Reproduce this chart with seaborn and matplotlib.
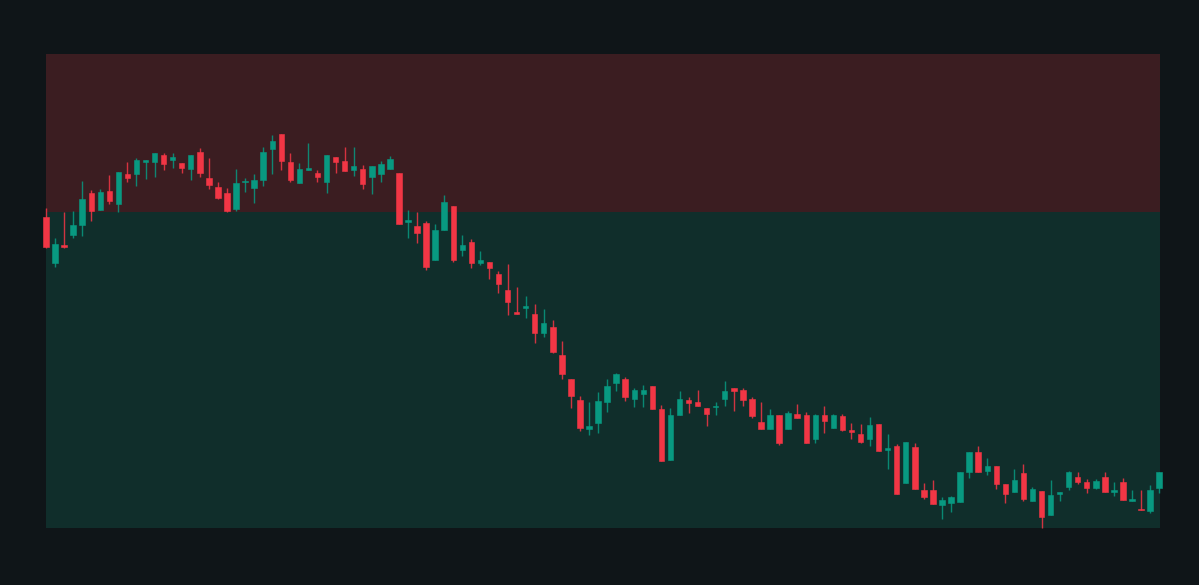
import numpy as np
import pandas as pd
import matplotlib
matplotlib.use("Agg")
import matplotlib.pyplot as plt
import seaborn as sns

# --- datos OHLC ---
opens = [131.13, 126.47, 128.27, 129.27, 130.30, 133.53, 131.83, 133.70, 132.40, 135.40,
         135.43, 136.63, 136.57, 137.30, 136.80, 136.50, 135.90, 137.63, 135.00, 134.13,
         133.47, 131.87, 134.60, 133.97, 134.77, 137.93, 139.37, 136.63, 134.53, 135.83,
         135.53, 134.63, 137.13, 136.70, 135.77, 135.87, 135.13, 135.37, 135.93, 135.53,
         130.63, 130.17, 130.50, 126.83, 129.83, 132.17, 127.80, 128.60, 126.47, 126.63,
         125.40, 123.80, 121.63, 122.03, 121.43, 119.53, 120.10, 117.30, 114.87, 112.80,
         109.87, 110.47, 112.57, 114.53, 114.93, 112.93, 113.40, 114.20, 111.90, 106.80,
         111.33, 112.77, 112.60, 112.03, 112.07, 112.93, 114.03, 113.80, 112.87, 110.57,
         109.90, 111.30, 109.93, 111.37, 111.30, 108.87, 111.30, 110.00, 111.20, 109.83,
         109.40, 108.90, 110.37, 107.80, 108.17, 104.47, 108.07, 103.80, 103.80, 102.30,
         102.53, 102.63, 105.60, 107.60, 105.70, 106.20, 104.37, 103.57, 105.50, 102.73,
         103.70, 101.30, 103.37, 104.07, 105.07, 104.57, 103.97, 105.07, 103.57, 104.60,
         102.73, 101.80, 101.73, 103.97]
highs = [132.00, 128.97, 131.63, 131.73, 134.70, 133.80, 133.87, 135.30, 135.57, 136.60,
         137.00, 136.77, 137.47, 137.47, 137.47, 136.50, 137.27, 137.97, 137.00, 134.63,
         133.97, 135.87, 134.97, 135.37, 138.07, 139.30, 139.37, 137.47, 136.47, 138.47,
         135.77, 137.27, 137.13, 138.13, 138.07, 136.27, 136.17, 136.70, 137.23, 135.53,
         131.80, 131.60, 130.70, 130.43, 133.30, 132.17, 129.30, 128.90, 127.70, 126.63,
         125.70, 126.40, 124.10, 123.20, 122.40, 121.90, 120.80, 118.70, 114.87, 113.17,
         112.63, 113.57, 114.90, 115.47, 115.07, 114.03, 114.30, 114.20, 112.27, 111.97,
         113.67, 113.07, 113.80, 112.03, 112.60, 114.70, 114.03, 113.97, 113.10, 112.57,
         111.90, 111.30, 111.73, 112.40, 111.57, 111.40, 112.20, 111.40, 111.40, 110.50,
         110.43, 111.07, 110.37, 109.40, 108.40, 108.60, 108.50, 104.47, 104.80, 103.07,
         103.20, 105.60, 107.60, 108.20, 107.00, 106.20, 104.37, 105.93, 106.40, 104.10,
         103.70, 104.80, 103.60, 105.70, 105.60, 104.90, 104.87, 105.60, 104.60, 105.00,
         103.80, 103.80, 104.27, 105.60]
lows = [128.05, 126.13, 128.05, 129.03, 129.23, 130.73, 131.83, 132.37, 131.60, 134.63,
        134.23, 134.93, 135.13, 135.77, 136.03, 135.53, 134.80, 135.07, 133.87, 132.90,
        131.63, 131.70, 133.63, 132.53, 134.23, 135.43, 135.80, 134.63, 134.53, 135.83,
        134.63, 133.53, 135.53, 135.70, 135.23, 133.93, 133.40, 134.63, 135.93, 130.43,
        129.03, 128.53, 125.80, 126.83, 129.83, 126.63, 127.23, 126.03, 126.33, 124.90,
        123.50, 121.27, 121.43, 121.03, 118.53, 119.10, 117.53, 114.93, 112.00, 109.75,
        109.27, 109.53, 111.63, 113.73, 112.67, 112.13, 112.13, 111.87, 106.73, 106.80,
        111.33, 111.47, 112.23, 110.23, 111.33, 112.23, 111.73, 112.23, 110.97, 109.90,
        109.90, 108.30, 109.93, 110.97, 108.53, 108.53, 109.53, 110.00, 109.73, 108.87,
        108.53, 108.23, 107.67, 105.90, 103.37, 104.47, 103.90, 102.90, 102.43, 100.93,
        101.63, 102.63, 105.03, 105.60, 105.30, 103.90, 102.53, 103.57, 102.70, 102.73,
        100.05, 101.30, 102.73, 103.83, 104.37, 103.50, 103.90, 103.60, 103.23, 102.77,
        102.73, 101.77, 101.53, 103.47]
closes = [128.07, 128.40, 128.07, 130.30, 132.90, 131.70, 133.60, 132.70, 135.57, 135.00,
          136.83, 136.77, 137.47, 136.43, 137.13, 136.03, 137.27, 135.47, 134.27, 133.03,
          131.67, 134.47, 134.73, 134.80, 137.63, 138.70, 136.70, 134.77, 135.90, 136.00,
          135.10, 137.27, 136.57, 135.73, 136.17, 134.40, 136.17, 136.37, 136.90, 130.43,
          130.80, 129.47, 126.07, 129.80, 132.60, 126.83, 128.33, 126.47, 126.80, 125.97,
          124.43, 122.57, 121.43, 122.20, 119.53, 120.50, 117.63, 115.40, 113.20, 109.97,
          110.20, 112.67, 114.20, 115.37, 113.10, 113.77, 113.83, 111.87, 106.73, 111.30,
          112.87, 112.53, 112.23, 111.43, 112.20, 113.73, 113.70, 112.77, 111.23, 109.90,
          111.30, 108.53, 111.53, 110.97, 108.53, 111.30, 110.67, 111.30, 109.83, 109.60,
          108.60, 110.30, 107.67, 107.97, 103.37, 108.60, 103.90, 103.13, 102.43, 102.80,
          103.07, 105.60, 107.60, 105.60, 106.20, 104.37, 103.40, 104.80, 102.93, 103.87,
          101.10, 103.30, 103.60, 105.60, 104.57, 103.97, 104.73, 103.60, 103.83, 102.77,
          102.90, 101.77, 103.83, 105.60]

nivel_ref = 131.63          # linea que separa zona roja / verde
y_min, y_max = 100.0, 147.4

df = pd.DataFrame({"open": opens, "high": highs, "low": lows, "close": closes})
df["x"] = np.arange(len(df))
df["sube"] = df["close"] >= df["open"]

# --- estilo ---
BG = "#0f1518"
ROJO = "#f23645"
VERDE = "#089981"

sns.set_theme(style="dark")
plt.rcParams["font.family"] = ["DejaVu Sans"]

fig = plt.figure(figsize=(11.99, 5.85), dpi=100, facecolor=BG)
ax = fig.add_axes([45.7 / 1199, 57 / 585, (1160 - 45.7) / 1199, 474 / 585])
ax.set_facecolor(BG)

# zonas de fondo
ax.axhspan(nivel_ref, y_max, color="#3b1d21", lw=0, zorder=0)
ax.axhspan(y_min, nivel_ref, color="#102e2b", lw=0, zorder=0)

colores = np.where(df["sube"], VERDE, ROJO)

# mechas
ax.vlines(df["x"], df["low"], df["high"], colors=colores, linewidth=1.0,
          alpha=0.85, zorder=2, clip_on=False)

# cuerpos
base = df[["open", "close"]].min(axis=1)
alto = (df["close"] - df["open"]).abs().clip(lower=0.1)
ax.bar(df["x"], alto, bottom=base, width=0.6, color=colores,
       edgecolor=colores, linewidth=0.4, zorder=3, clip_on=False)

ax.set_xlim(-0.03, len(df) - 1 + 0.09)
ax.set_ylim(y_min, y_max)
ax.set_xticks([])
ax.set_yticks([])
for s in ax.spines.values():
    s.set_visible(False)
ax.grid(False)

fig.savefig("out.png", dpi=100, facecolor=BG)
